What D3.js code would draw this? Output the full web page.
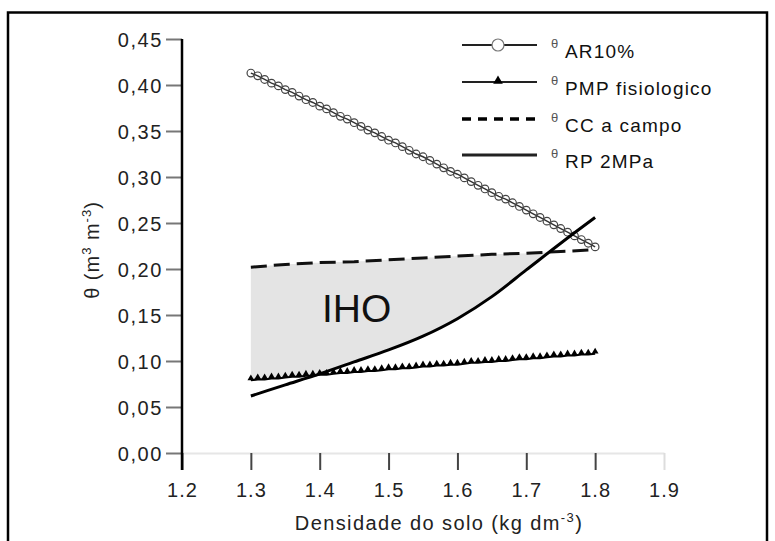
<!DOCTYPE html>
<html>
<head>
<meta charset="utf-8">
<script src="https://cdn.jsdelivr.net/npm/d3@7"></script>
<style>
    body { margin: 0; background: #fff; }
    text { font-family: "Liberation Sans", Arial, sans-serif; }
</style>
</head>
<body>
<div id="chart"></div>
<script>
'use strict';

// densidade do solo (kg dm-3), grid of the AR and PMP curves
var densidade = [1.30, 1.31, 1.32, 1.33, 1.34, 1.35, 1.36, 1.37, 1.38, 1.39,
    1.40, 1.41, 1.42, 1.43, 1.44, 1.45, 1.46, 1.47, 1.48, 1.49,
    1.50, 1.51, 1.52, 1.53, 1.54, 1.55, 1.56, 1.57, 1.58, 1.59,
    1.60, 1.61, 1.62, 1.63, 1.64, 1.65, 1.66, 1.67, 1.68, 1.69,
    1.70, 1.71, 1.72, 1.73, 1.74, 1.75, 1.76, 1.77, 1.78, 1.79, 1.80]

var thetaAR = [0.413, 0.410, 0.406, 0.402, 0.399, 0.395, 0.392, 0.388, 0.384, 0.381,
    0.377, 0.374, 0.370, 0.366, 0.363, 0.359, 0.355, 0.351, 0.348, 0.344,
    0.340, 0.337, 0.333, 0.329, 0.325, 0.322, 0.318, 0.314, 0.310, 0.306,
    0.303, 0.299, 0.295, 0.291, 0.287, 0.283, 0.279, 0.276, 0.272, 0.268,
    0.264, 0.260, 0.256, 0.252, 0.248, 0.244, 0.240, 0.236, 0.232, 0.228, 0.224]

var thetaPMP = [0.079, 0.080, 0.080, 0.081, 0.081, 0.082, 0.083, 0.083, 0.084, 0.084,
    0.085, 0.085, 0.086, 0.087, 0.087, 0.088, 0.088, 0.089, 0.089, 0.090,
    0.091, 0.091, 0.092, 0.092, 0.093, 0.094, 0.094, 0.095, 0.095, 0.096,
    0.096, 0.097, 0.098, 0.098, 0.099, 0.099, 0.100, 0.100, 0.101, 0.102,
    0.102, 0.103, 0.103, 0.104, 0.105, 0.105, 0.106, 0.106, 0.107, 0.107, 0.108]

// CC and RP were read at a coarser step
var densCurvas = [1.30, 1.35, 1.40, 1.45, 1.50, 1.55, 1.60, 1.65, 1.70, 1.75, 1.80]
var thetaCC = [0.202, 0.205, 0.207, 0.208, 0.210, 0.212, 0.214, 0.216, 0.217, 0.219, 0.221]
var thetaRP = [0.062, 0.074, 0.086, 0.099, 0.112, 0.127, 0.146, 0.170, 0.199, 0.228, 0.256]

var xTicks = [1.2, 1.3, 1.4, 1.5, 1.6, 1.7, 1.8, 1.9]
var yTicks = [0, 0.05, 0.10, 0.15, 0.20, 0.25, 0.30, 0.35, 0.40, 0.45]
var legendLabels = ['AR10%', 'PMP fisiologico', 'CC a campo', 'RP 2MPa']

var width = 775
var height = 541

var svg = d3.select('#chart').append('svg')
    .attr('width', width).attr('height', height)

// outer frame
svg.append('rect')
    .attr('x', 8).attr('y', 12.5)
    .attr('width', 759).attr('height', 540)
    .style('fill', 'none').style('stroke', '#000').style('stroke-width', 2.5)

var x = d3.scaleLinear().domain([1.2, 1.9]).range([182, 664])
var y = d3.scaleLinear().domain([0, 0.45]).range([453, 39])

// IHO: between min(CC, AR) and max(PMP, RP)
function interp(xs, ys, v) {
    var i = Math.min(Math.max(d3.bisectLeft(xs, v), 1), xs.length - 1)
    var t = (v - xs[i - 1]) / (xs[i] - xs[i - 1])
    return ys[i - 1] + t * (ys[i] - ys[i - 1])
}
var top_ = [], bottom = []
for (var k = 0; k <= 250; k++) {
    var d = 1.3 + k * 0.002
    var up = Math.min(interp(densCurvas, thetaCC, d), interp(densidade, thetaAR, d))
    var lo = Math.max(interp(densidade, thetaPMP, d), interp(densCurvas, thetaRP, d))
    if (up < lo) break
    top_.push([d, up])
    bottom.push([d, lo])
}
var area = top_.concat(bottom.reverse())
svg.append('path')
    .attr('d', d3.line().x(function(p) { return x(p[0]) }).y(function(p) { return y(p[1]) })(area) + 'Z')
    .style('fill', '#e4e4e4')

svg.append('text')
    .attr('x', 322).attr('y', 322)
    .style('font-size', '39px').style('fill', '#111')
    .text('IHO')

// axes
var yAxis = svg.append('g').attr('transform', 'translate(182,0)')
    .call(d3.axisLeft(y).tickValues(yTicks).tickSize(16).tickPadding(3).tickSizeOuter(0)
        .tickFormat(function(v) { return d3.format('.2f')(v).replace('.', ',') }))
yAxis.select('.domain').remove()
yAxis.selectAll('line').style('stroke', '#777').style('stroke-width', 2)
yAxis.selectAll('text').style('font-size', '20px').style('letter-spacing', '1.6px')
    .style('fill', '#222').attr('dy', '0.35em')

var xAxis = svg.append('g').attr('transform', 'translate(0,453)')
    .call(d3.axisBottom(x).tickValues(xTicks).tickSize(17).tickPadding(13).tickSizeOuter(0)
        .tickFormat(d3.format('.1f')))
xAxis.select('.domain').style('stroke', '#e6e6e6').style('stroke-width', 2)
xAxis.selectAll('line').style('stroke', function(v) { return v == 1.9 ? '#ddd' : '#444' }).style('stroke-width', 2)
xAxis.selectAll('text').style('font-size', '20px').style('letter-spacing', '1px').style('fill', '#222')

svg.append('line')
    .attr('x1', 182).attr('x2', 182).attr('y1', y(0.45)).attr('y2', 470)
    .style('stroke', '#000').style('stroke-width', 2.5)

svg.append('text')
    .attr('x', 439).attr('y', 530).attr('text-anchor', 'middle')
    .style('font-size', '20px').style('letter-spacing', '1.4px').style('fill', '#222')
    .html('Densidade do solo (kg dm<tspan dy="-8" font-size="13">-3</tspan><tspan dy="8">)</tspan>')

svg.append('text')
    .attr('transform', 'translate(99,250) rotate(-90)').attr('text-anchor', 'middle')
    .style('font-size', '20px').style('letter-spacing', '1px').style('fill', '#222')
    .html('θ (m<tspan dy="-8" font-size="13">3</tspan><tspan dy="8"> m</tspan><tspan dy="-8" font-size="13">-3</tspan><tspan dy="8">)</tspan>')

// series
var lineD = d3.line().x(function(p) { return x(p[0]) }).y(function(p) { return y(p[1]) })
var ptsAR = d3.zip(densidade, thetaAR)
var ptsPMP = d3.zip(densidade, thetaPMP)
var ptsCC = d3.zip(densCurvas, thetaCC)
var ptsRP = d3.zip(densCurvas, thetaRP)

svg.append('path').attr('d', lineD(ptsPMP))
    .style('fill', 'none').style('stroke', '#000').style('stroke-width', 2)
svg.selectAll('.tri').data(ptsPMP).enter().append('path')
    .attr('class', 'tri')
    .attr('transform', function(p) { return 'translate(' + x(p[0]) + ',' + (y(p[1]) - 2) + ')' })
    .attr('d', d3.symbol().type(d3.symbolTriangle).size(20))
    .style('fill', '#000')

svg.append('path').attr('d', lineD(ptsCC))
    .style('fill', 'none').style('stroke', '#111').style('stroke-width', 3)
    .style('stroke-dasharray', '16,7')

svg.append('path').attr('d', lineD(ptsAR))
    .style('fill', 'none').style('stroke', '#333').style('stroke-width', 1.4)
svg.selectAll('.circ').data(ptsAR).enter().append('circle')
    .attr('class', 'circ')
    .attr('cx', function(p) { return x(p[0]) })
    .attr('cy', function(p) { return y(p[1]) })
    .attr('r', 3.8)
    .style('fill', 'none').style('stroke', '#444').style('stroke-width', 1.2)

svg.append('path').attr('d', d3.line().curve(d3.curveMonotoneX)
        .x(function(p) { return x(p[0]) }).y(function(p) { return y(p[1]) })(ptsRP))
    .style('fill', 'none').style('stroke', '#000').style('stroke-width', 3)

// legend
var legY = [45, 82, 119, 155]
legendLabels.forEach(function(lab, i) {
    var ly = legY[i]
    var g = svg.append('g')
    var ln = g.append('line').attr('x1', 462).attr('x2', 537).attr('y1', ly).attr('y2', ly)
        .style('stroke', '#222').style('stroke-width', i == 3 ? 3 : 2)
    if (i == 0) {
        g.append('circle').attr('cx', 498).attr('cy', ly).attr('r', 6)
            .style('fill', '#fff').style('stroke', '#777').style('stroke-width', 1.2)
    }
    if (i == 1) {
        g.append('path').attr('transform', 'translate(498,' + (ly - 1) + ')')
            .attr('d', d3.symbol().type(d3.symbolTriangle).size(40)).style('fill', '#000')
    }
    if (i == 2) {
        ln.style('stroke-width', 3.5).style('stroke-dasharray', '9,7').style('stroke', '#000')
    }
    g.append('text').attr('x', 551).attr('y', ly + 3)
        .style('font-size', '13px').style('fill', '#555').text('θ')
    g.append('text').attr('x', 565).attr('y', ly + 13)
        .style('font-size', '19px').style('letter-spacing', '1.2px').style('fill', '#111').text(lab)
})
</script>
</body>
</html>
